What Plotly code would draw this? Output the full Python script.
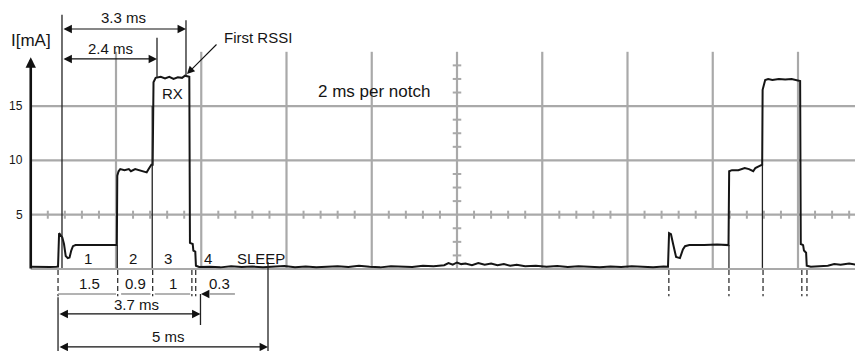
import plotly.graph_objects as go

# ---------------- data (time in ms, current in mA) ----------------
trace_t = [
    0.00, 0.15, 0.30, 0.45, 0.60, 0.64, 0.665, 0.70, 0.74, 0.78, 0.82, 0.87, 0.91, 0.95, 0.99, 1.05, 1.30, 1.55, 1.80, 2.02,
    2.03, 2.06, 2.10, 2.20, 2.30, 2.35, 2.45, 2.55, 2.65, 2.72, 2.78, 2.83, 2.86,
    2.87, 2.88, 2.93, 3.05, 3.15, 3.25, 3.35, 3.45, 3.55, 3.62, 3.72,
    3.735, 3.80, 3.815, 3.86, 3.875, 3.95,
    4.20, 4.45, 4.70, 4.95, 5.20, 5.45, 5.70, 5.95, 6.20, 6.45, 6.70, 6.95, 7.20, 7.45, 7.70, 7.95,
    8.20, 8.45, 8.70, 8.95, 9.20, 9.45, 9.70,
    9.80, 9.90, 10.00, 10.10, 10.20, 10.35, 10.50, 10.65, 10.80, 10.95, 11.10, 11.25, 11.40,
    11.60, 11.85, 12.10, 12.35, 12.60, 12.85, 13.10, 13.35, 13.60, 13.85, 14.10, 14.35, 14.60, 14.85, 14.95,
    14.975, 15.02, 15.07, 15.14, 15.23, 15.30, 15.35, 15.45, 15.80, 16.10, 16.37,
    16.385, 16.45, 16.60, 16.75, 16.85, 16.95, 17.00, 17.10, 17.16,
    17.17, 17.20, 17.23, 17.30, 17.40, 17.55, 17.70, 17.85, 17.95, 18.05,
    18.065, 18.12, 18.14, 18.19, 18.205, 18.30, 18.50, 18.70, 18.85, 19.00, 19.20, 19.35, 19.53,
]
trace_ma = [
    0.20, 0.18, 0.22, 0.18, 0.20, 0.22, 3.30, 3.15, 2.90, 2.30, 1.20, 1.00, 1.05, 1.70, 2.10, 2.20, 2.20, 2.25, 2.20, 2.20,
    8.60, 9.00, 9.20, 9.10, 9.20, 9.00, 9.20, 9.10, 9.00, 8.90, 9.30, 9.60, 9.60,
    14.6, 17.2, 17.6, 17.7, 17.55, 17.7, 17.5, 17.65, 17.6, 17.8, 17.7,
    2.40, 2.30, 1.70, 1.60, 0.30, 0.18,
    0.20, 0.15, 0.25, 0.18, 0.22, 0.15, 0.20, 0.28, 0.17, 0.22, 0.15, 0.20, 0.25, 0.18, 0.30, 0.20,
    0.15, 0.25, 0.22, 0.18, 0.30, 0.25, 0.35,
    0.55, 0.40, 0.60, 0.45, 0.50, 0.35, 0.55, 0.40, 0.50, 0.35, 0.45, 0.30, 0.40,
    0.25, 0.30, 0.20, 0.28, 0.18, 0.25, 0.20, 0.15, 0.22, 0.18, 0.25, 0.20, 0.17, 0.22, 0.20,
    3.30, 3.20, 2.30, 1.10, 1.00, 1.80, 2.10, 2.20, 2.20, 2.25, 2.20,
    9.00, 9.10, 9.10, 9.30, 9.20, 9.00, 9.30, 9.50, 9.60,
    16.5, 17.0, 17.4, 17.5, 17.4, 17.5, 17.45, 17.5, 17.4, 17.3,
    2.30, 2.20, 1.70, 1.50, 0.30, 0.20, 0.25, 0.30, 0.45, 0.40, 0.50, 0.40, 0.45,
]

grid_t = [2, 4, 6, 8, 10, 12, 14, 16, 18]          # 2 ms per notch
grid_ma = [0, 5, 10, 15]
y_tick_vals = [5, 10, 15]
y_tick_text = ["5", "10", "15"]

phase_labels = ["1", "2", "3", "4", "SLEEP"]
phase_label_t = [1.34, 2.40, 3.22, 4.15, 5.40]
duration_labels = ["1.5", "0.9", "1", "0.3"]
duration_label_t = [1.37, 2.45, 3.34, 4.42]

burst1_edges_t = [0.64, 2.04, 2.86, 3.78, 3.87]
burst2_edges_t = [14.97, 16.38, 17.18, 18.09, 18.21]

# measurement arrows: label, start, end, arrow level, label x, label y
measures = [
    ("3.3 ms", 0.733, 3.642, 22.1, 2.165, 23.2),
    ("2.4 ms", 0.733, 2.962, 19.34, 1.86, 20.26),
    ("3.7 ms", 0.64, 3.982, -4.14, 2.49, -3.31),
    ("5 ms", 0.64, 5.566, -7.18, 3.22, -6.17),
]

# ---------------- figure ----------------
FONT = "Liberation Sans, Arial, sans-serif"
TXT = "#151515"
GRID = "#a9a9a9"

fig = go.Figure()
fig.add_trace(go.Scatter(x=trace_t, y=trace_ma, mode="lines",
                         line=dict(color="#151515", width=2), hoverinfo="skip"))

shapes = []
# grid
for g in grid_t:
    shapes.append(dict(type="line", xref="x", yref="y", x0=g, x1=g, y0=0, y1=20,
                       line=dict(color=GRID, width=2.2), layer="below"))
for g in grid_ma:
    shapes.append(dict(type="line", xref="x", yref="y", x0=0, x1=19.6, y0=g, y1=g,
                       line=dict(color=GRID, width=2.2), layer="below"))
# minor notch ticks on the 5 mA line and the 10 ms line
for k in range(1, 49):
    if k % 5:
        tt = k * 0.4
        shapes.append(dict(type="line", xref="x", yref="y", x0=tt, x1=tt, y0=4.63, y1=5.37,
                           line=dict(color=GRID, width=2), layer="below"))
for k in range(1, 16):
    if k % 4:
        mm = k * 1.25
        shapes.append(dict(type="line", xref="x", yref="y", x0=9.9, x1=10.1, y0=mm, y1=mm,
                           line=dict(color=GRID, width=2), layer="below"))

def vline(t, y0, y1, w=1.3, color="#222", dash=None):
    ln = dict(color=color, width=w)
    if dash:
        ln["dash"] = dash
    shapes.append(dict(type="line", xref="x", yref="y", x0=t, x1=t, y0=y0, y1=y1, line=ln))

# extension / phase marker lines
vline(0.733, 0.1, 23.4)
vline(2.962, 17.6, 21.3)
vline(3.642, 17.7, 22.9)
vline(2.03, 0.1, 2.2)
vline(2.85, 0.1, 15.0)
vline(16.38, 0.1, 2.2)
vline(17.165, 0.1, 9.6)
vline(0.64, -2.6, -7.6)
vline(3.982, -2.3, -5.16)
vline(5.566, 0.64, -7.6)
for t in burst1_edges_t + burst2_edges_t:
    vline(t, -0.1, -2.5, w=1.3, color="#333", dash="5px,3px")

# grey duration baseline
for a, b in [(0.64, 2.0), (2.12, 2.81), (2.91, 3.74), (4.2, 4.79)]:
    shapes.append(dict(type="line", xref="x", yref="y", x0=a, x1=b, y0=-2.3, y1=-2.3,
                       line=dict(color="#9a9a9a", width=1.6)))

annotations = []

def text(s, x, y, size=15, xanchor="center"):
    annotations.append(dict(x=x, y=y, xref="x", yref="y", text=s, showarrow=False,
                            xanchor=xanchor, yanchor="middle",
                            font=dict(family=FONT, size=size, color=TXT)))

def arrow(x0, y0, x1, y1, both=True, w=1.2, size=1.4, color="#111"):
    annotations.append(dict(x=x1, y=y1, ax=x0, ay=y0, xref="x", yref="y", axref="x", ayref="y",
                            text="", showarrow=True, arrowhead=2, startarrowhead=2,
                            arrowside="end+start" if both else "end",
                            arrowsize=size, startarrowsize=size, arrowwidth=w,
                            arrowcolor=color, standoff=0, startstandoff=0))

for lab, a, b, lvl, tx, ty in measures:
    arrow(a, lvl, b, lvl)
    text(lab, tx, ty)

# y axis with arrow
arrow(0, -0.1, 0, 19.5, both=False, w=2.6, size=0.8)
text("I[mA]", 0.0, 21.05, size=17)
for v, s in zip(y_tick_vals, y_tick_text):
    text(s, -0.13, v, size=12, xanchor="right")

for s, t in zip(phase_labels, phase_label_t):
    text(s, t, 1.0)
for s, t in zip(duration_labels, duration_label_t):
    text(s, t, -1.38)
arrow(4.2, -2.3, 3.994, -2.3, both=False)

text("RX", 3.337, 16.2)
text("2 ms per notch", 8.05, 16.3, size=17)
text("First RSSI", 5.32, 21.36)
arrow(4.393, 20.81, 3.665, 17.96, both=False, w=1.1, size=1.4)

# The page body keeps its default 8 px margin, so the figure is 8 px smaller
# and its axis ranges start 8 px further in.
fig.update_layout(
    width=855, height=343,
    margin=dict(l=0, r=0, t=0, b=0),
    paper_bgcolor="white", plot_bgcolor="white",
    showlegend=False,
    xaxis=dict(range=[-0.5337, 19.525], visible=False, fixedrange=True),
    yaxis=dict(range=[-7.551, 24.033], visible=False, fixedrange=True),
    shapes=shapes, annotations=annotations,
)

fig.write_html("out.html")
